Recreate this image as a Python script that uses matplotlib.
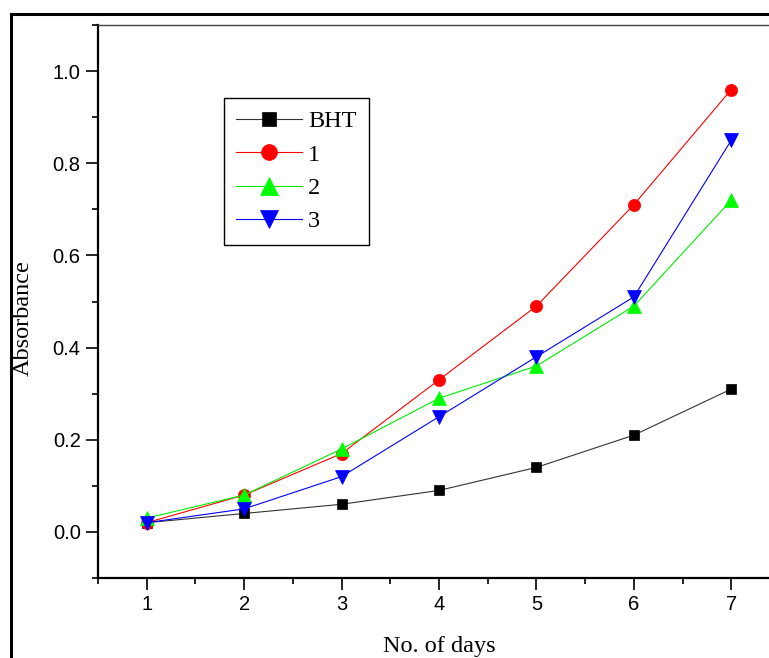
import matplotlib
matplotlib.use("Agg")
import matplotlib.pyplot as plt
from matplotlib.lines import Line2D
from matplotlib.ticker import MultipleLocator, FixedLocator, FormatStrFormatter

plt.rcParams["font.family"] = ["Liberation Sans", "DejaVu Sans"]

days = [1, 2, 3, 4, 5, 6, 7]
bht = [0.02, 0.04, 0.06, 0.09, 0.14, 0.21, 0.31]
s1 = [0.02, 0.08, 0.17, 0.33, 0.49, 0.71, 0.96]
s2 = [0.03, 0.08, 0.18, 0.29, 0.36, 0.49, 0.72]
s3 = [0.02, 0.05, 0.12, 0.25, 0.38, 0.51, 0.85]
labels = ["BHT", "1", "2", "3"]

W, H = 769, 658
fig = plt.figure(figsize=(W / 100, H / 100), dpi=100)

def fx(px):
    return px / W

def fy(py):
    return 1 - py / H

ax = fig.add_axes([fx(98), fy(578), fx(780) - fx(98), fy(25) - fy(578)])

series = [
    (bht, "#000000", "s", 7.8, "#333333"),
    (s1, "#ff0000", "o", 8.8, "#ff0000"),
    (s2, "#00ff00", "^", 10.0, "#00ee00"),
    (s3, "#0000ff", "v", 10.0, "#0000ff"),
]
for (vals, col, mk, ms, lc), lab in zip(series, labels):
    ax.plot(days, vals, color=lc, lw=0.8, marker=mk, ms=ms,
            markerfacecolor=col, markeredgecolor=col, markeredgewidth=0.5,
            label=lab)

ax.set_xlim(0.5, 7.5)
ax.set_ylim(-0.1, 1.1)
ax.xaxis.set_major_locator(FixedLocator(days))
ax.xaxis.set_minor_locator(MultipleLocator(0.5))
ax.yaxis.set_major_locator(FixedLocator([0.0, 0.2, 0.4, 0.6, 0.8, 1.0]))
ax.yaxis.set_minor_locator(FixedLocator([-0.1, 0.1, 0.3, 0.5, 0.7, 0.9, 1.1]))
ax.yaxis.set_major_formatter(FormatStrFormatter("%.1f"))

ax.tick_params(which="major", direction="out", length=8.5, width=1.2,
               labelsize=14.5, pad=4)
ax.tick_params(which="minor", direction="out", length=4.5, width=1.2)
ax.tick_params(top=False, right=False)

ax.spines["left"].set_linewidth(1.6)
ax.spines["bottom"].set_linewidth(1.6)
ax.spines["top"].set_linewidth(1.0)
ax.spines["top"].set_color("#444444")
ax.spines["right"].set_visible(False)

leg = ax.legend(loc="upper left",
                bbox_to_anchor=(fx(224), fy(98)), bbox_transform=fig.transFigure,
                prop={"family": "Liberation Serif", "size": 17.5},
                frameon=True, fancybox=False, framealpha=1, edgecolor="black",
                borderpad=0.5, labelspacing=0.47, handlelength=2.7,
                handletextpad=0.25, markerscale=1.3, borderaxespad=0)
leg.get_frame().set_linewidth(1.0)

fig.text(fx(23), fy(318), "Absorbance", rotation=90, ha="center", va="center",
         family="Liberation Serif", fontsize=17.5)
fig.text(fx(439), fy(652), "No. of days", ha="center", va="baseline",
         family="Liberation Serif", fontsize=17.5)

# outer frame
fig.add_artist(Line2D([fx(10.5), fx(10.5)], [0, fy(14)], transform=fig.transFigure,
                      color="black", lw=2.2, solid_capstyle="projecting"))
fig.add_artist(Line2D([fx(10.5), 1.0], [fy(14), fy(14)], transform=fig.transFigure,
                      color="black", lw=2.2, solid_capstyle="projecting"))

fig.savefig("out.png", dpi=100)
